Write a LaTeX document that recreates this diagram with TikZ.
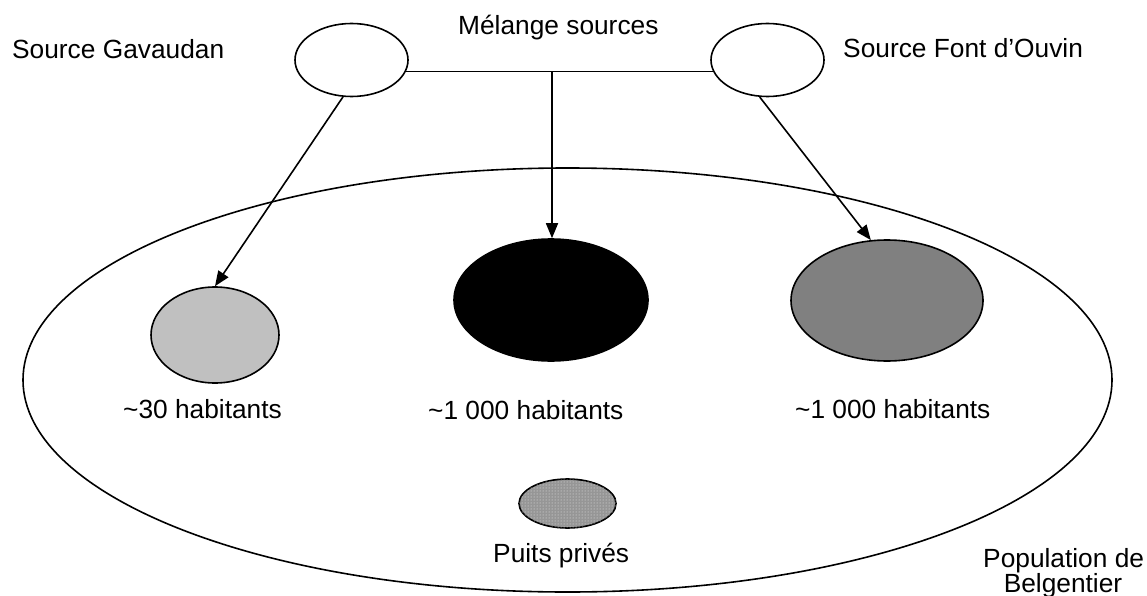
\documentclass[tikz,border=0pt]{standalone}
\usepackage{fontspec}
\setmainfont{Liberation Sans}
\usetikzlibrary{arrows.meta,shapes.geometric,patterns}
\begin{document}
\begin{tikzpicture}[x=1pt,y=-1pt,
  lbl/.style={font=\fontsize{26.3}{30}\selectfont, inner sep=0pt, anchor=base west},
  blob/.style={draw=black, line width=1.6pt, ellipse, inner sep=0pt},
  conn/.style={draw=black, line width=1.6pt},
  arr/.style={conn, -{Triangle[length=15pt,width=12pt]}}
]
\useasboundingbox (0,0) rectangle (1147,596);
% population ellipse
\node[blob, minimum width=1089pt, minimum height=424pt] (pop) at (567.5,380) {};
% sources
\node[blob, fill=white, minimum width=113pt, minimum height=73pt] (gav) at (351.5,60) {};
\node[blob, fill=white, minimum width=113pt, minimum height=73pt] (fov) at (767.5,60) {};
% consumer groups
\node[blob, fill={rgb,255:red,192;green,192;blue,192}, minimum width=128pt, minimum height=96pt] (light) at (215,335) {};
\node[blob, fill=black, minimum width=194pt, minimum height=122pt] (blk) at (551,300) {};
\node[blob, fill={rgb,255:red,128;green,128;blue,128}, minimum width=192pt, minimum height=121pt] (dark) at (887,300.5) {};
\node[blob, fill={rgb,255:red,150;green,150;blue,150}, postaction={pattern=dots, pattern color=white!85!gray}, minimum width=97pt, minimum height=49pt] (puits) at (567.5,503.5) {};
% connectors
\coordinate (mix) at (552,72);
\draw[conn] (gav.-12.6) -- (fov.192.6);
\draw[arr] (mix) -- (mix |- blk.north);
\draw[arr] (gav.257) -- (light.north);
\draw[arr] (fov.258) -- (dark.105);
% labels
\node[lbl] (tmel) at (458,35) {Mélange sources};
\node[lbl] (tgav) at (12,59) {Source Gavaudan};
\node[lbl] (tfov) at (843,58) {Source Font d’Ouvin};
\node[lbl] (t30) at (123,418) {\textasciitilde30 habitants};
\node[lbl] (t1k) at (428,419) {\textasciitilde1 000 habitants};
\node[lbl] (t1kb) at (795,418) {\textasciitilde1 000 habitants};
\node[lbl] (tpuits) at (493,562) {Puits privés};
\node[lbl] (tpop1) at (983,567) {Population de};
\node[lbl, anchor=base] (tpop2) at (1063,592) {Belgentier};
\end{tikzpicture}
\end{document}
